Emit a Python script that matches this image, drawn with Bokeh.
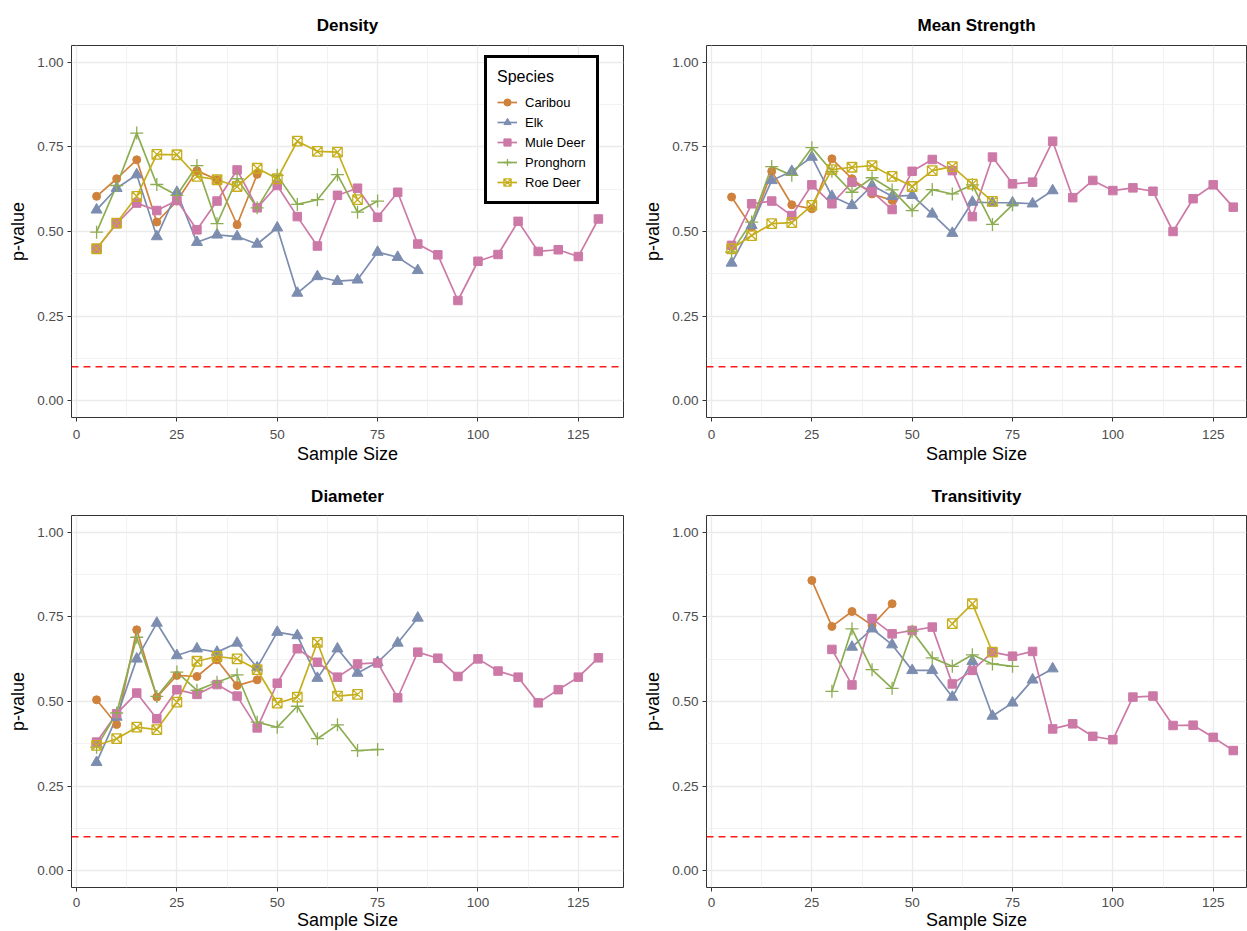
from bokeh.plotting import figure
from bokeh.layouts import column, row
from bokeh.models import (FixedTicker, Span, Legend, LegendItem, Range1d,
                          NumeralTickFormatter)
from bokeh.embed import file_html
from bokeh.resources import INLINE

# ---------------------------------------------------------------- data
species = ["Caribou", "Elk", "Mule Deer", "Pronghorn", "Roe Deer"]
colors = ["#D0823C", "#7C8DB0", "#CC79A7", "#8DAD52", "#C6AE1C"]

x_ticks = [0, 25, 50, 75, 100, 125]
y_ticks = [0.0, 0.25, 0.50, 0.75, 1.00]
alpha_level = 0.1

# sample sizes per species
n_caribou = [5, 10, 15, 20, 25, 30, 35, 40, 45]
n_elk = [5, 10, 15, 20, 25, 30, 35, 40, 45, 50, 55, 60, 65, 70, 75, 80, 85]
n_mule = [5, 10, 15, 20, 25, 30, 35, 40, 45, 50, 55, 60, 65, 70, 75, 80, 85,
          90, 95, 100, 105, 110, 115, 120, 125, 130]
n_pronghorn = [5, 10, 15, 20, 25, 30, 35, 40, 45, 50, 55, 60, 65, 70, 75]
n_roe = [5, 10, 15, 20, 25, 30, 35, 40, 45, 50, 55, 60, 65, 70]

# transitivity was only computable from larger samples
nt_caribou = [25, 30, 35, 40, 45]
nt_elk = [35, 40, 45, 50, 55, 60, 65, 70, 75, 80, 85]
nt_mule = [30, 35, 40, 45, 50, 55, 60, 65, 70, 75, 80, 85, 90, 95, 100, 105,
           110, 115, 120, 125, 130]
nt_pronghorn = [30, 35, 40, 45, 50, 55, 60, 65, 70, 75]
nt_roe = [60, 65, 70]

# p-values: Density
density_caribou = [0.604, 0.656, 0.712, 0.528, 0.590, 0.680, 0.653, 0.520, 0.669]
density_elk = [0.564, 0.628, 0.668, 0.485, 0.616, 0.468, 0.490, 0.485, 0.463,
               0.511, 0.318, 0.367, 0.353, 0.357, 0.439, 0.424, 0.385]
density_mule = [0.449, 0.523, 0.584, 0.562, 0.592, 0.505, 0.590, 0.682, 0.570,
                0.636, 0.544, 0.457, 0.607, 0.628, 0.542, 0.616, 0.463, 0.431,
                0.296, 0.412, 0.432, 0.530, 0.441, 0.446, 0.426, 0.537]
density_pronghorn = [0.498, 0.636, 0.791, 0.639, 0.607, 0.695, 0.523, 0.656,
                     0.570, 0.666, 0.580, 0.594, 0.668, 0.557, 0.590]
density_roe = [0.449, 0.525, 0.604, 0.728, 0.727, 0.663, 0.653, 0.633, 0.687,
               0.656, 0.767, 0.737, 0.735, 0.594]

# p-values: Mean Strength
strength_caribou = [0.602, 0.513, 0.678, 0.579, 0.567, 0.715, 0.656, 0.611, 0.592]
strength_elk = [0.407, 0.518, 0.651, 0.678, 0.720, 0.604, 0.577, 0.636, 0.604,
                0.607, 0.552, 0.495, 0.587, 0.585, 0.585, 0.582, 0.621]
strength_mule = [0.459, 0.582, 0.590, 0.547, 0.638, 0.582, 0.646, 0.618, 0.565,
                 0.678, 0.713, 0.680, 0.544, 0.720, 0.641, 0.646, 0.767, 0.600,
                 0.651, 0.621, 0.629, 0.619, 0.500, 0.597, 0.638, 0.572]
strength_pronghorn = [0.439, 0.528, 0.692, 0.666, 0.748, 0.678, 0.616, 0.659,
                      0.623, 0.562, 0.624, 0.611, 0.638, 0.521, 0.579]
strength_roe = [0.449, 0.488, 0.523, 0.526, 0.577, 0.683, 0.690, 0.695, 0.663,
                0.633, 0.680, 0.692, 0.640, 0.589]

# p-values: Diameter
diameter_caribou = [0.505, 0.432, 0.712, 0.513, 0.577, 0.574, 0.623, 0.547, 0.564]
diameter_elk = [0.320, 0.454, 0.626, 0.732, 0.636, 0.656, 0.646, 0.673, 0.600,
                0.705, 0.695, 0.569, 0.656, 0.584, 0.616, 0.673, 0.747]
diameter_mule = [0.380, 0.464, 0.525, 0.449, 0.535, 0.521, 0.550, 0.516, 0.422,
                 0.554, 0.656, 0.616, 0.572, 0.611, 0.614, 0.511, 0.646, 0.628,
                 0.574, 0.626, 0.590, 0.572, 0.496, 0.535, 0.572, 0.629]
diameter_pronghorn = [0.365, 0.466, 0.690, 0.515, 0.587, 0.533, 0.557, 0.579,
                      0.439, 0.424, 0.486, 0.390, 0.431, 0.355, 0.358]
diameter_roe = [0.370, 0.390, 0.424, 0.417, 0.498, 0.619, 0.633, 0.626, 0.594,
                0.495, 0.513, 0.675, 0.516, 0.521]

# p-values: Transitivity
transitivity_caribou = [0.858, 0.722, 0.766, 0.725, 0.789]
transitivity_elk = [0.661, 0.715, 0.668, 0.592, 0.592, 0.513, 0.619, 0.457,
                    0.496, 0.564, 0.597]
transitivity_mule = [0.654, 0.549, 0.745, 0.700, 0.710, 0.720, 0.552, 0.592,
                     0.646, 0.634, 0.648, 0.419, 0.434, 0.397, 0.387, 0.513,
                     0.516, 0.429, 0.430, 0.394, 0.355]
transitivity_pronghorn = [0.530, 0.715, 0.594, 0.539, 0.708, 0.629, 0.604,
                          0.638, 0.611, 0.604]
transitivity_roe = [0.730, 0.789, 0.646]

# ---------------------------------------------------------------- styling
FONT = "Liberation Sans"
markers = [
    dict(marker="circle", size=8),
    dict(marker="triangle", size=11),
    dict(marker="square", size=8.5),
    dict(marker="cross", size=13, line_width=1.3),
    dict(marker="square_x", size=9.5, line_width=1.3, fill_color=None),
]


def make_panel(title, series, x_end, frame_w, left, right, bottom,
               tick_standoff, label_standoff, title_standoff, with_legend=False):
    p = figure(frame_width=frame_w, frame_height=372,
               x_range=Range1d(-1.25, x_end), y_range=Range1d(-0.05, 1.05),
               min_border_left=left, min_border_right=right,
               min_border_top=45, min_border_bottom=bottom,
               output_backend="svg", toolbar_location=None, title=title)
    p.background_fill_color = "white"
    p.border_fill_color = "white"
    p.outline_line_color = "#333333"
    p.outline_line_width = 1

    p.title.align = "center"
    p.title.text_font = FONT
    p.title.text_font_size = "17px"
    p.title.text_font_style = "bold"
    p.title.text_color = "black"
    p.title.standoff = title_standoff

    p.xaxis.ticker = FixedTicker(ticks=x_ticks,
                                 minor_ticks=[12.5, 37.5, 62.5, 87.5, 112.5])
    p.yaxis.ticker = FixedTicker(ticks=y_ticks,
                                 minor_ticks=[0.125, 0.375, 0.625, 0.875])
    p.yaxis.formatter = NumeralTickFormatter(format="0.00")
    p.xaxis.axis_label = "Sample Size"
    p.yaxis.axis_label = "p-value"
    for ax in (p.xaxis, p.yaxis):
        ax.axis_line_color = None
        ax.major_tick_line_color = "#333333"
        ax.major_tick_out = 4
        ax.major_tick_in = 0
        ax.minor_tick_line_color = None
        ax.major_label_text_font = FONT
        ax.major_label_text_font_size = "13.5px"
        ax.major_label_text_color = "#4D4D4D"
        ax.axis_label_text_font = FONT
        ax.axis_label_text_font_size = "18px"
        ax.axis_label_text_font_style = "normal"
        ax.axis_label_text_color = "black"
    p.xaxis.major_label_standoff = tick_standoff
    p.xaxis.axis_label_standoff = label_standoff
    p.yaxis.major_label_standoff = 4
    p.yaxis.axis_label_standoff = 6

    for g in (p.xgrid, p.ygrid):
        g.grid_line_color = "#EBEBEB"
        g.grid_line_width = 1.4
        g.minor_grid_line_color = "#EFEFEF"
        g.minor_grid_line_width = 0.8

    p.add_layout(Span(location=alpha_level, dimension="width",
                      line_color="#FF1A1A", line_dash="7 5", line_width=1.5))

    lines = []
    for (xs, ys), col in zip(series, colors):
        lines.append(p.line(xs, ys, line_color=col, line_width=1.7))
    items = []
    for (xs, ys), col, mk, name, ln in zip(series, colors, markers, species, lines):
        kw = dict(mk)
        kw.setdefault("fill_color", col)
        r = p.scatter(xs, ys, line_color=col, **kw)
        items.append(LegendItem(label=name, renderers=[ln, r]))

    if with_legend:
        legend = Legend(items=items, location=(413, 213), title="Species",
                        title_text_font=FONT, title_text_font_size="16px",
                        title_text_font_style="normal", title_text_color="black",
                        title_standoff=7,
                        label_text_font=FONT, label_text_font_size="13px",
                        label_text_color="black", label_standoff=8,
                        glyph_width=20, glyph_height=18, spacing=2,
                        padding=10, margin=0,
                        border_line_color="black", border_line_width=3,
                        border_line_alpha=1.0,
                        background_fill_color="white", background_fill_alpha=1)
        p.add_layout(legend)
    return p


p_density = make_panel(
    "Density",
    [(n_caribou, density_caribou), (n_elk, density_elk), (n_mule, density_mule),
     (n_pronghorn, density_pronghorn), (n_roe, density_roe)],
    136.25, 552, 71, 17, 53, 8, 2, 22, with_legend=True)
p_strength = make_panel(
    "Mean Strength",
    [(n_caribou, strength_caribou), (n_elk, strength_elk), (n_mule, strength_mule),
     (n_pronghorn, strength_pronghorn), (n_roe, strength_roe)],
    133.3, 540, 66, 1, 53, 8, 2, 22)
p_diameter = make_panel(
    "Diameter",
    [(n_caribou, diameter_caribou), (n_elk, diameter_elk), (n_mule, diameter_mule),
     (n_pronghorn, diameter_pronghorn), (n_roe, diameter_roe)],
    136.25, 552, 71, 17, 44, 6, 0, 20)
p_transitivity = make_panel(
    "Transitivity",
    [(nt_caribou, transitivity_caribou), (nt_elk, transitivity_elk),
     (nt_mule, transitivity_mule), (nt_pronghorn, transitivity_pronghorn),
     (nt_roe, transitivity_roe)],
    133.3, 540, 66, 1, 44, 6, 0, 20)

layout = column(row(p_density, p_strength), row(p_diameter, p_transitivity))

open("out.html", "w").write(file_html(layout, INLINE))
